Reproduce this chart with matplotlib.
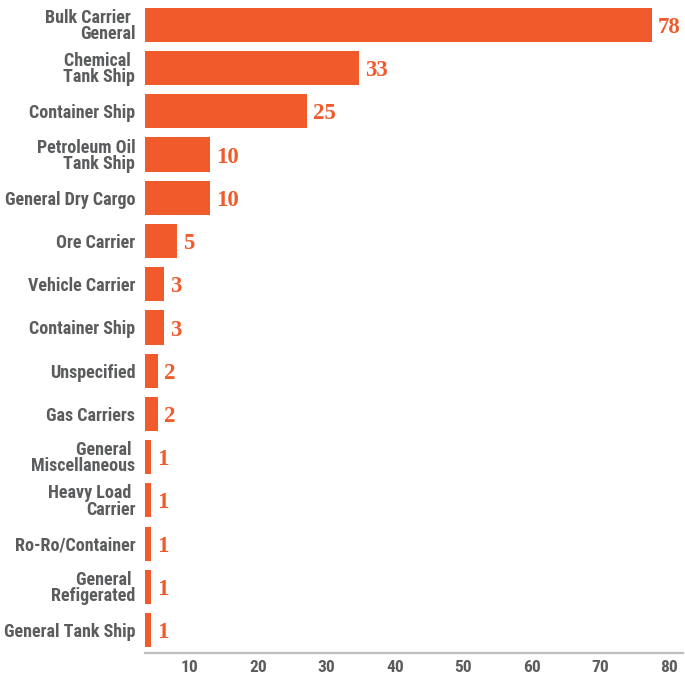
import matplotlib
matplotlib.use("Agg")
import matplotlib.pyplot as plt
from matplotlib import font_manager

categories = ["Bulk Carrier \nGeneral", "Chemical \nTank Ship", "Container Ship",
              "Petroleum Oil\nTank Ship", "General Dry Cargo", "Ore Carrier",
              "Vehicle Carrier", "Container Ship", "Unspecified", "Gas Carriers",
              "General \nMiscellaneous", "Heavy Load \nCarrier", "Ro-Ro/Container",
              "General \nRefigerated", "General Tank Ship"]
values = [78, 33, 25, 10, 10, 5, 3, 3, 2, 2, 1, 1, 1, 1, 1]
tick_values = [10, 20, 30, 40, 50, 60, 70, 80]

BAR = "#F15A2B"
GRAY = "#5B5C5E"

names = {(f.name, f.stretch) for f in font_manager.fontManager.ttflist}
all_names = {n for n, _ in names}
label_kw = dict(family=["DejaVu Sans"], fontstretch="normal")
for cand in ["Liberation Sans Narrow", "Roboto Condensed", "Open Sans Condensed",
             "Noto Sans Condensed", "DejaVu Sans Condensed"]:
    if cand in all_names:
        label_kw = dict(family=[cand, "DejaVu Sans"])
        break
else:
    cond = [n for n, s in names if s in ("condensed", "semi-condensed", 87, 75, 62)]
    if ("DejaVu Sans", "condensed") in names:
        label_kw = dict(family=["DejaVu Sans"], fontstretch="condensed")
    elif cond:
        label_kw = dict(family=[sorted(cond)[0]], fontstretch="condensed")
value_font = ["Liberation Serif", "DejaVu Serif"]

fig = plt.figure(figsize=(6.85, 6.76), dpi=100)
ax = fig.add_axes([145/685, 23/676, (683-145)/685, (671-23)/676])

pos = list(range(len(values)))
ax.barh(pos, values, height=0.79, color=BAR)
ax.set_ylim(14.53, -0.46)
ax.set_xlim(0, 82.8)

for p, v in zip(pos, values):
    ax.text(v + 0.9, p + 0.06, str(v), va="center", ha="left", color=BAR,
            fontsize=16.5, fontweight="bold", family=value_font)

ax.set_yticks(pos)
ax.set_yticklabels(categories, fontsize=13, fontweight="bold", color=GRAY,
                   linespacing=0.88, **label_kw)
ax.tick_params(axis="y", length=0, pad=7)
ax.set_xticks([])

for s in ["top", "right", "left"]:
    ax.spines[s].set_visible(False)
ax.spines["bottom"].set_color("#BDBDBD")
ax.spines["bottom"].set_linewidth(1.6)

sec = ax.secondary_xaxis("bottom",
                         functions=(lambda x: (6.5 * x + 24) / 6.85,
                                    lambda v: (6.85 * v - 24) / 6.5))
sec.set_xticks(tick_values)
sec.set_xticklabels([str(t) for t in tick_values], fontsize=12.5,
                    fontweight="bold", color=GRAY, **label_kw)
sec.tick_params(length=0, pad=5)
sec.spines["bottom"].set_visible(False)

fig.savefig("out.png", dpi=100)
